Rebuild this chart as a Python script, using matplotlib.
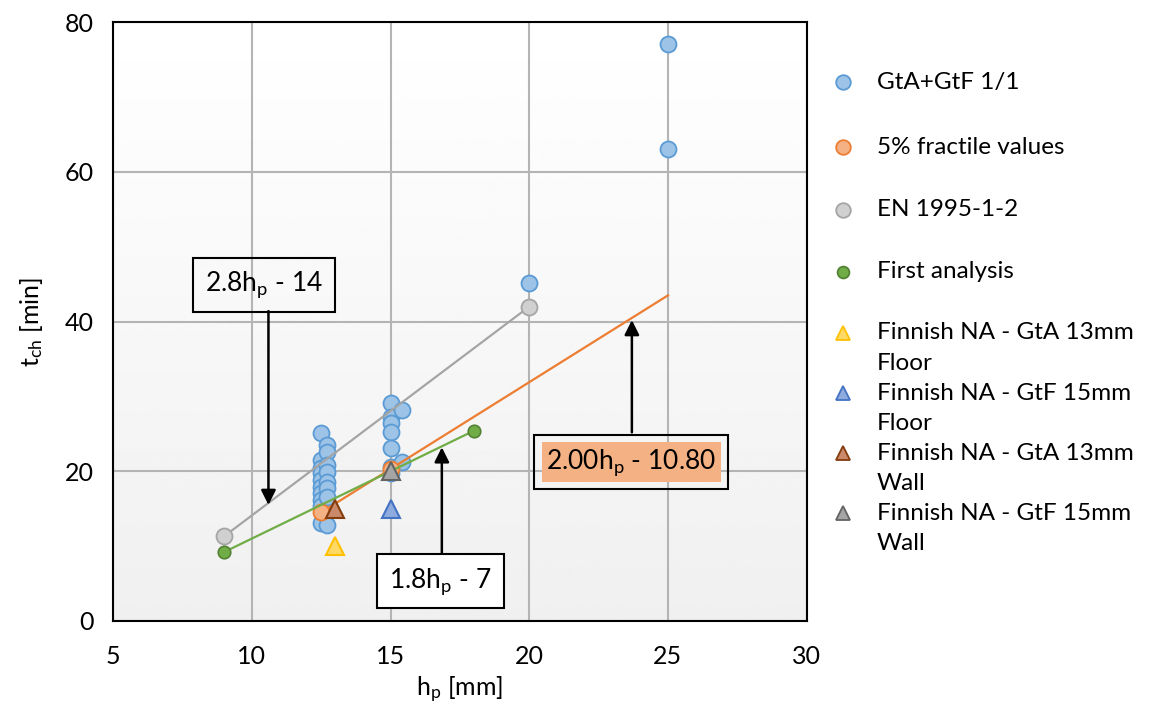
import numpy as np
import matplotlib.pyplot as plt
from matplotlib.lines import Line2D

plt.rcParams['font.family'] = ['Lato', 'DejaVu Sans']
plt.rcParams['mathtext.fontset'] = 'custom'
plt.rcParams['mathtext.rm'] = 'Lato'
plt.rcParams['mathtext.it'] = 'Lato'

# GtA+GtF 1/1 test results
test_x = [12.5] * 10 + [12.7] * 8 + [15.0] * 7 + [15.4] * 2 + [20.0, 25.0, 25.0]
test_y = [25.1, 21.5, 20.5, 19.7, 18.8, 17.9, 17.1, 16.2, 15.3, 13.1,
          23.5, 22.6, 20.8, 19.9, 18.6, 17.8, 16.6, 12.8,
          29.1, 27.2, 26.4, 25.2, 23.1, 20.6, 19.8,
          28.2, 21.2,
          45.1, 77.1, 63.1]

# 5% fractile values + trend
frac_x = [12.5, 15.0]
frac_y = [14.5, 20.3]
frac_line_x = [12.5, 25.0]
frac_line_y = [14.5, 43.5]

# EN 1995-1-2
en_x = [9.0, 20.0]
en_y = [11.3, 42.0]

# first analysis
first_x = [9.0, 18.0]
first_y = [9.2, 25.4]

# Finnish NA
na_labels = ['Finnish NA - GtA 13mm\nFloor', 'Finnish NA - GtF 15mm\nFloor',
             'Finnish NA - GtA 13mm\nWall', 'Finnish NA - GtF 15mm\nWall']
na_x = [13.0, 15.0, 13.0, 15.0]
na_y = [10.0, 15.0, 15.0, 20.0]
na_face = ['#FFD966', '#8FAADC', '#C9896A', '#A5A5A5']
na_edge = ['#FFC000', '#4472C4', '#843C0C', '#636363']

fig = plt.figure(figsize=(11.54, 7.17), dpi=100)
ax = fig.add_axes([0.098, 0.134, 0.601, 0.835])

# light gradient in plot area
grad = np.linspace(1.0, 0.94, 256).reshape(-1, 1)
ax.imshow(grad, extent=[5, 30, 0, 80], aspect='auto', cmap='gray', vmin=0, vmax=1,
          origin='upper', zorder=0)

ax.set_xlim(5, 30)
ax.set_ylim(0, 80)
ax.set_xticks(np.arange(5, 31, 5))
ax.set_yticks(np.arange(0, 81, 20))
ax.grid(True, color='#B4B4B4', linewidth=1.5, zorder=1)
ax.set_axisbelow(True)
for s in ax.spines.values():
    s.set_linewidth(1.5)
    s.set_color('black')
ax.tick_params(length=0, labelsize=18)
ax.tick_params(axis='x', pad=17)
ax.tick_params(axis='y', pad=14)
ax.set_xlabel(r'h$_\mathregular{p}$ [mm]', fontsize=18, labelpad=5)
ax.set_ylabel(r't$_\mathregular{ch}$ [min]', fontsize=18, labelpad=14)

ms = 11.5
ax.plot(test_x, test_y, 'o', ms=ms, mfc='#9DC3E6', mec='#5B9BD5', mew=1.3, zorder=3)
ax.plot(frac_line_x, frac_line_y, '-', color='#ED7D31', lw=1.6, zorder=4)
ax.plot(frac_x, frac_y, 'o', ms=ms, mfc='#F4B183', mec='#ED7D31', mew=1.3, zorder=4)
ax.plot(en_x, en_y, '-', color='#A5A5A5', lw=1.6, zorder=4)
ax.plot(en_x, en_y, 'o', ms=ms, mfc='#D0D0D0', mec='#A5A5A5', mew=1.3, zorder=4)
ax.plot(first_x, first_y, '-', color='#70AD47', lw=1.6, zorder=4)
ax.plot(first_x, first_y, 'o', ms=9, mfc='#70AD47', mec='#548235', mew=1.2, zorder=4)
for i in range(4):
    ax.plot(na_x[i], na_y[i], '^', ms=13, mfc=na_face[i], mec=na_edge[i], mew=1.5, zorder=5)

# annotation boxes with arrows
fs = 19
arrow = dict(arrowstyle='-|>', color='black', lw=1.8, mutation_scale=22, shrinkA=0, shrinkB=0)
ax.annotate('', xy=(10.6, 15.5), xytext=(10.6, 41.4), arrowprops=arrow, zorder=6)
ax.text(10.45, 44.9, r'2.8h$_\mathregular{p}$ - 14', fontsize=fs, ha='center', va='center', zorder=7,
        bbox=dict(boxstyle='square,pad=0.45', fc='none', ec='black', lw=1.5))
ax.annotate('', xy=(16.85, 23.2), xytext=(16.85, 8.8), arrowprops=arrow, zorder=6)
ax.text(16.8, 5.3, r'1.8h$_\mathregular{p}$ - 7', fontsize=fs, ha='center', va='center', zorder=7,
        bbox=dict(boxstyle='square,pad=0.45', fc='white', ec='black', lw=1.5))
ax.annotate('', xy=(23.7, 40.2), xytext=(23.7, 25.2), arrowprops=arrow, zorder=6)
ax.text(23.68, 21.2, r'2.00h$_\mathregular{p}$ - 10.80', fontsize=fs, ha='center', va='center', zorder=7,
        bbox=dict(boxstyle='square,pad=0.18', fc='#F4B183', ec='none'))
ax.text(23.68, 21.2, r'2.00h$_\mathregular{p}$ - 10.80', fontsize=fs, ha='center', va='center',
        zorder=6, color='none',
        bbox=dict(boxstyle='square,pad=0.45', fc='none', ec='black', lw=1.5))

# legend drawn by hand (rows of different heights)
leg_labels = ['GtA+GtF 1/1', '5% fractile values', 'EN 1995-1-2', 'First analysis'] + na_labels
leg_marker = ['o', 'o', 'o', 'o', '^', '^', '^', '^']
leg_face = ['#9DC3E6', '#F4B183', '#D0D0D0', '#70AD47'] + na_face
leg_edge = ['#5B9BD5', '#ED7D31', '#A5A5A5', '#548235'] + na_edge
leg_size = [10.5, 10.5, 10.5, 8.5, 10, 10, 10, 10]
leg_rows = [82, 147, 210, 272, 333, 393, 453, 513]
H = 717.0
for lab, m, fc, ec, sz, r in zip(leg_labels, leg_marker, leg_face, leg_edge, leg_size, leg_rows):
    yf = 1 - r / H
    fig.add_artist(Line2D([843 / 1154], [yf], marker=m, ms=sz, mfc=fc, mec=ec, mew=1.3,
                          transform=fig.transFigure))
    for k, line in enumerate(lab.split('\n')):
        fig.text(877 / 1154, 1 - (r + 30 * k) / H, line, fontsize=17.5, va='center', ha='left')

fig.savefig('out.png', dpi=100)
